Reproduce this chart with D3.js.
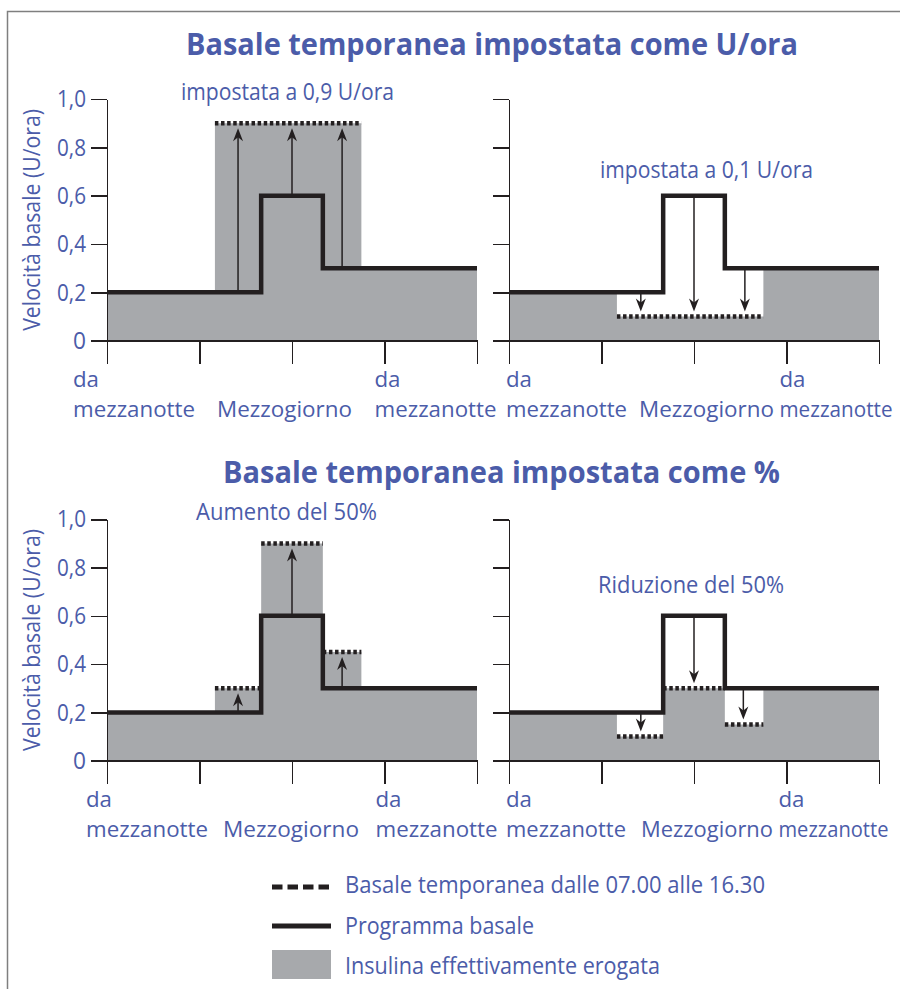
<!DOCTYPE html>
<html>
<head>
<meta charset="utf-8" />
<script src="https://cdn.jsdelivr.net/npm/d3@7"></script>
<style>
	body { margin: 0; background: #fff; }
	svg text { font-family: "Open Sans", "Noto Sans", sans-serif; }
	.axis path, .axis line { stroke: #231f20; stroke-width: 1.5; shape-rendering: crispEdges; }
</style>
</head>
<body>
<div id="chart"></div>
<script>
// ore sull'asse x e valori sull'asse y
var hourTicks = [0, 6, 12, 18, 24];
var rateTicks = [0, 0.2, 0.4, 0.6, 0.8, 1.0];
var rateLabels = ["0", "0,2", "0,4", "0,6", "0,8", "1,0"];

// programma basale a gradini (ora di inizio -> U/ora)
var basalHours = [0, 10, 14, 24];
var basalRates = [0.2, 0.6, 0.3, 0.3];

// basale temporanea dalle 07.00 alle 16.30 : [dalle, alle, U/ora]
var tempA = [[7, 16.5, 0.9]];
var tempB = [[7, 16.5, 0.1]];
var tempC = [[7, 10, 0.3], [10, 14, 0.9], [14, 16.5, 0.45]];
var tempD = [[7, 10, 0.1], [10, 14, 0.3], [14, 16.5, 0.15]];

// insulina effettivamente erogata (gradini)
var deliveredHours = [0, 7, 10, 14, 16.5, 24];
var deliveredA = [0.2, 0.9, 0.9, 0.9, 0.3, 0.3];
var deliveredB = [0.2, 0.1, 0.1, 0.1, 0.3, 0.3];
var deliveredC = [0.2, 0.3, 0.9, 0.45, 0.3, 0.3];
var deliveredD = [0.2, 0.1, 0.3, 0.15, 0.3, 0.3];

// frecce : [ora, da, a]
var arrowsA = [[8.5, 0.2, 0.9], [12, 0.6, 0.9], [15.25, 0.3, 0.9]];
var arrowsB = [[8.55, 0.2, 0.1], [12, 0.6, 0.1], [15.3, 0.3, 0.1]];
var arrowsC = [[8.5, 0.2, 0.3], [12, 0.6, 0.9], [15.25, 0.3, 0.45]];
var arrowsD = [[8.55, 0.2, 0.1], [12, 0.6, 0.3], [15.2, 0.3, 0.15]];

var titles = ["Basale temporanea impostata come U/ora", "Basale temporanea impostata come %"];
var notes = ["impostata a 0,9 U/ora", "impostata a 0,1 U/ora", "Aumento del 50%", "Riduzione del 50%"];
var yTitle = "Velocità basale (U/ora)";
var legendLabels = ["Basale temporanea dalle 07.00 alle 16.30", "Programma basale", "Insulina effettivamente erogata"];

var blue = "#4b5ca9", grey = "#a7a9ac", ink = "#231f20";

// stringe il testo alla larghezza voluta (il font originale è più stretto)
function fit(sel, w) {
	return sel.attr("textLength", w).attr("lengthAdjust", "spacingAndGlyphs");
}

var svg = d3.select("#chart").append("svg")
	.attr("width", 900)
	.attr("height", 989);

// cornice
svg.append("rect")
	.attr("x", 7.5).attr("y", 11.5)
	.attr("width", 1000).attr("height", 1000)
	.attr("fill", "none").attr("stroke", "#7f7f7f").attr("stroke-width", 1.5);

// titoli
fit(svg.append("text").attr("x", 186).attr("y", 55), 612)
	.style("font-size", "31px").style("font-weight", "bold").style("fill", blue)
	.text(titles[0]);
fit(svg.append("text").attr("x", 223).attr("y", 483), 557)
	.style("font-size", "31px").style("font-weight", "bold").style("fill", blue)
	.text(titles[1]);

var panels = [
	{ temp: tempA, delivered: deliveredA, arrows: arrowsA, note: notes[0], noteX: 181, noteY: 100, noteW: 213,
		x0: 107, x1: 477, yBase: 340.7, yTop: 99, labels: true, dx: [-34, -75, -10], w: [122, 135, 122] },
	{ temp: tempB, delivered: deliveredB, arrows: arrowsB, note: notes[1], noteX: 600, noteY: 178, noteW: 213,
		x0: 509, x1: 879, yBase: 340.7, yTop: 99, labels: false, dx: [-3, -55, -7], w: [121, 135, 113] },
	{ temp: tempC, delivered: deliveredC, arrows: arrowsC, note: notes[2], noteX: 196, noteY: 520, noteW: 181,
		x0: 107, x1: 477, yBase: 760.7, yTop: 519.3, labels: true, dx: [-21, -69, -9], w: [122, 136, 122] },
	{ temp: tempD, delivered: deliveredD, arrows: arrowsD, note: notes[3], noteX: 598, noteY: 593, noteW: 186,
		x0: 509, x1: 879, yBase: 760.7, yTop: 519.3, labels: false, dx: [-3, -53, -8], w: [120, 132, 110] }
];

panels.forEach(function (p) {
	var x = d3.scaleLinear().domain([0, 24]).range([p.x0, p.x1]);
	var y = d3.scaleLinear().domain([0, 1]).range([p.yBase, p.yTop]);
	var g = svg.append("g");

	// area grigia : insulina erogata
	var area = d3.area()
		.curve(d3.curveStepAfter)
		.x(function (d, i) { return x(deliveredHours[i]); })
		.y0(y(0))
		.y1(function (d) { return y(d); });
	g.append("path").datum(p.delivered)
		.attr("d", area)
		.attr("fill", grey);

	// assi
	var yAxis = g.append("g").attr("class", "axis")
		.attr("transform", "translate(" + x(0) + ",0)")
		.call(d3.axisLeft(y).tickValues(rateTicks).tickSize(16).tickSizeOuter(0).tickPadding(5)
			.tickFormat(function (d, i) { return p.labels ? rateLabels[i] : ""; }));
	yAxis.selectAll("text")
		.attr("font-family", null)
		.style("font-size", "24px").style("fill", blue)
		.each(function (d, i) {
			if (p.labels) fit(d3.select(this), i == 0 ? 13 : 29);
		});

	g.append("g").attr("class", "axis")
		.attr("transform", "translate(0," + y(0) + ")")
		.call(d3.axisBottom(x).tickValues(hourTicks).tickSize(23).tickSizeOuter(0).tickFormat(""));

	// etichette asse x
	var lab = g.append("g").style("font-size", "22px").style("fill", blue);
	[[0, 0], [18, 2]].forEach(function (h) {
		fit(lab.append("text").attr("x", x(h[0]) + p.dx[h[1]]).attr("y", y(0) + 46), 26).text("da");
		fit(lab.append("text").attr("x", x(h[0]) + p.dx[h[1]]).attr("y", y(0) + 76), p.w[h[1]]).text("mezzanotte");
	});
	fit(lab.append("text").attr("x", x(12) + p.dx[1]).attr("y", y(0) + 76), p.w[1]).text("Mezzogiorno");

	// frecce
	p.arrows.forEach(function (a) {
		var up = a[2] > a[1];
		var tip = y(a[2]) + (up ? 5 : -5);
		g.append("line")
			.attr("x1", x(a[0])).attr("x2", x(a[0]))
			.attr("y1", y(a[1])).attr("y2", tip + (up ? 8 : -8))
			.attr("stroke", ink).attr("stroke-width", 1.5);
		var s = up ? 1 : -1;
		g.append("path")
			.attr("d", "M0,0 L-5," + 13 * s + " L0," + 9 * s + " L5," + 13 * s + " Z")
			.attr("transform", "translate(" + x(a[0]) + "," + tip + ")")
			.attr("fill", ink);
	});

	// basale temporanea (puntinata)
	p.temp.forEach(function (t) {
		g.append("line")
			.attr("x1", x(t[0])).attr("x2", x(t[1]))
			.attr("y1", y(t[2])).attr("y2", y(t[2]))
			.attr("stroke", ink).attr("stroke-width", 4.5)
			.attr("stroke-dasharray", "3.5,2.6");
	});

	// programma basale
	var line = d3.line()
		.curve(d3.curveStepAfter)
		.x(function (d, i) { return x(basalHours[i]); })
		.y(function (d) { return y(d); });
	g.append("path").datum(basalRates)
		.attr("d", line)
		.attr("fill", "none").attr("stroke", ink).attr("stroke-width", 4.5);

	// nota
	fit(g.append("text").attr("x", p.noteX).attr("y", p.noteY), p.noteW)
		.style("font-size", "23px").style("fill", blue)
		.text(p.note);

	// titolo asse y
	if (p.labels) {
		fit(g.append("text")
			.attr("transform", "translate(40," + (p.yBase + p.yTop) / 2 + ") rotate(-90)")
			.attr("text-anchor", "middle"), 222)
			.style("font-size", "23px").style("fill", blue)
			.text(yTitle);
	}
});

// legenda
var legend = svg.append("g");
legend.append("line").attr("x1", 272).attr("x2", 331).attr("y1", 887).attr("y2", 887)
	.attr("stroke", ink).attr("stroke-width", 5).attr("stroke-dasharray", "10.5,5");
legend.append("line").attr("x1", 272).attr("x2", 331).attr("y1", 926).attr("y2", 926)
	.attr("stroke", ink).attr("stroke-width", 5);
legend.append("rect").attr("x", 272).attr("y", 950).attr("width", 59).attr("height", 29)
	.attr("fill", grey);
var legendW = [420, 189, 315];
legendLabels.forEach(function (t, i) {
	fit(legend.append("text").attr("x", 345).attr("y", 893 + i * 40.5), legendW[i])
		.style("font-size", "23px").style("fill", blue)
		.text(t);
});
</script>
</body>
</html>
